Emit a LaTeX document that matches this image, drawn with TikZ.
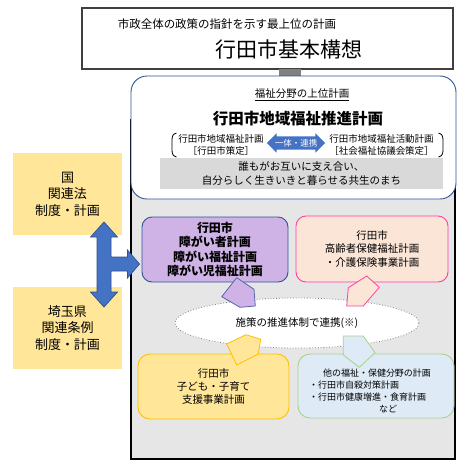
\documentclass[tikz,border=0pt]{standalone}
\usepackage{fontspec}
\setmainfont{Noto Sans CJK JP}
\usetikzlibrary{shapes.arrows,shapes.geometric}
\definecolor{panelgray}{HTML}{E7E6E6}
\definecolor{boxgray}{HTML}{D9D9D9}
\definecolor{bargray}{HTML}{808080}
\definecolor{topedge}{HTML}{404040}
\definecolor{navy}{HTML}{2F5597}
\definecolor{lightyellow}{HTML}{FFE699}
\definecolor{gold}{HTML}{FFC000}
\definecolor{lavender}{HTML}{CFB3E6}
\definecolor{lavedge}{HTML}{5568A6}
\definecolor{peach}{HTML}{FBE5D6}
\definecolor{pinkedge}{HTML}{FF40A0}
\definecolor{paleblue}{HTML}{DEEBF7}
\definecolor{palegreen}{HTML}{A9D18E}
\definecolor{arrowblue}{HTML}{4472C4}
\definecolor{arrowedge}{HTML}{2F528F}
\newcommand{\jfs}[2]{\fontsize{#1pt}{#2pt}\selectfont}
\tikzset{
  txt/.style={inner sep=0pt, align=center},
  plainbox/.style={inner sep=0pt, align=center, line width=0.8pt},
  roundbox/.style={inner sep=0pt, align=center, line width=0.9pt, rounded corners=#1},
  pent/.style={line width=0.8pt, line join=round},
}
\begin{document}
\begin{tikzpicture}[x=1pt,y=-1pt]
\fill[white] (0,0) rectangle (465,467);
\useasboundingbox (0,0) rectangle (465,467);

% top box
\node[plainbox, draw=topedge, fill=white, line width=1.1pt, minimum width=371pt, minimum height=61pt] (top) at (267.5,38.5) {};
\node[txt, font=\jfs{11.5}{14}] (topsub) at (227,24) {市政全体の政策の指針を示す最上位の計画};
\node[txt, font=\jfs{21}{25}] (toptitle) at (289,49) {行田市基本構想};

% gray panel and connector bar
\node[plainbox, draw=black, fill=panelgray, line width=1.1pt, minimum width=324pt, minimum height=339pt] (panel) at (293,289.5) {};
\node[inner sep=0pt, fill=bargray, minimum width=22pt, minimum height=8pt] (bar) at (290,72.5) {};

% white rounded box
\node[roundbox=16pt, draw=navy, fill=white, minimum width=325pt, minimum height=123pt] (welfare) at (293.5,137.5) {};
\node[txt, font=\jfs{10.5}{13}] (upper) at (302,95) {\underline{福祉分野の上位計画}};
\node[txt, font=\bfseries\jfs{15.5}{18}] (wtitle) at (298,119) {行田市地域福祉推進計画};
\node[txt, font=\jfs{9.5}{11.5}] (cityplan) at (221,145) {行田市地域福祉計画\\［行田市策定］};
\node[txt, font=\jfs{9.5}{11.5}] (actplan) at (381.5,145) {行田市地域福祉活動計画\\［社会福祉協議会策定］};
\node[double arrow, fill=arrowblue, text=white, font=\jfs{8.5}{10}, inner xsep=1pt, inner ysep=2.5pt,
      minimum height=57pt, double arrow head extend=3pt] (link) at (296,143) {一体・連携};
\draw[line width=0.8pt] (176.5,133) .. controls (173,134) and (172,136) .. (172,140) -- (172,150)
  .. controls (172,154) and (173,156) .. (176.5,157);
\draw[line width=0.8pt] (438.5,133) .. controls (442,134) and (443,136) .. (443,140) -- (443,150)
  .. controls (443,154) and (442,156) .. (438.5,157);
\node[plainbox, fill=boxgray, minimum width=283pt, minimum height=31pt, font=\jfs{10.5}{14}] (motto) at (301.5,173.5)
  {誰もがお互いに支え合い、\\自分らしく生きいきと暮らせる共生のまち};

% left boxes
\node[plainbox, fill=lightyellow, minimum width=109pt, minimum height=82pt, font=\jfs{13}{16.5}] (nation) at (67.5,194)
  {国\\関連法\\制度・計画};
\node[plainbox, fill=lightyellow, minimum width=109pt, minimum height=82pt, font=\jfs{13}{16.5}] (pref) at (67.5,328)
  {埼玉県\\関連条例\\制度・計画};

% big blue arrow
\draw[fill=arrowblue, draw=arrowedge, line width=0.7pt, line join=miter]
  (104,222) -- (117.5,237) -- (111,237) -- (111,257) -- (127.5,257) -- (127.5,250) -- (139.5,264)
  -- (127.5,278) -- (127.5,271) -- (111,271) -- (111,292) -- (117.5,292) -- (104,307)
  -- (90.5,292) -- (97,292) -- (97,237) -- (90.5,237) -- cycle;

% plan boxes
\node[roundbox=10pt, draw=navy, fill=lavender, minimum width=146pt, minimum height=65pt,
      font=\bfseries\jfs{12}{14.5}] (disab) at (215,249.5)
  {行田市\\障がい者計画\\障がい福祉計画\\障がい児福祉計画};
\node[roundbox=10pt, draw=pinkedge, fill=peach, minimum width=152pt, minimum height=66pt,
      font=\jfs{10.5}{13.5}] (elder) at (372,249)
  {行田市\\高齢者保健福祉計画\\・介護保険事業計画};

% ellipse
\node[ellipse, draw=gray, dotted, line width=0.8pt, fill=white, minimum width=244pt, minimum height=50pt,
      inner sep=0pt, font=\jfs{10.5}{12}] (coop) at (297,323) {施策の推進体制で連携(※)};

\node[roundbox=12pt, draw=gold, fill=lightyellow, minimum width=151pt, minimum height=65pt,
      font=\jfs{10.5}{12.8}] (child) at (213.5,386.5)
  {行田市\\子ども・子育て\\支援事業計画};
\node[roundbox=12pt, draw=palegreen, fill=paleblue, minimum width=156pt, minimum height=64pt] (other) at (376,386) {};
\node[txt, font=\jfs{9}{11}] (other1) at (377,373) {他の福祉・保健分野の計画};
\node[txt, font=\jfs{9}{11}, anchor=west] (other2) at (309,385) {・行田市自殺対策計画};
\node[txt, font=\jfs{9}{11}, anchor=west] (other3) at (309,397) {・行田市健康増進・食育計画};
\node[txt, font=\jfs{9}{11}] (other4) at (388,409) {など};

% pentagon arrows
\draw[pent, fill=lavender, draw=lavedge] (236.7,277.7) -- (254,289.3) -- (255.3,306) -- (240,307.3) -- (221.7,296.7) -- cycle;
\draw[pent, fill=peach, draw=pinkedge] (366.7,276) -- (379.3,287.3) -- (363.3,306) -- (346.7,306) -- (348.3,287.7) -- cycle;
\draw[pent, fill=lightyellow, draw=gold] (246,334.7) -- (260.7,339.3) -- (258.3,354) -- (236.7,365) -- (226.7,344) -- cycle;
\draw[pent, fill=paleblue, draw=palegreen] (343.3,336) -- (363.3,336) -- (375,352.7) -- (359.3,367.3) -- (343.3,355) -- cycle;
\end{tikzpicture}
\end{document}
